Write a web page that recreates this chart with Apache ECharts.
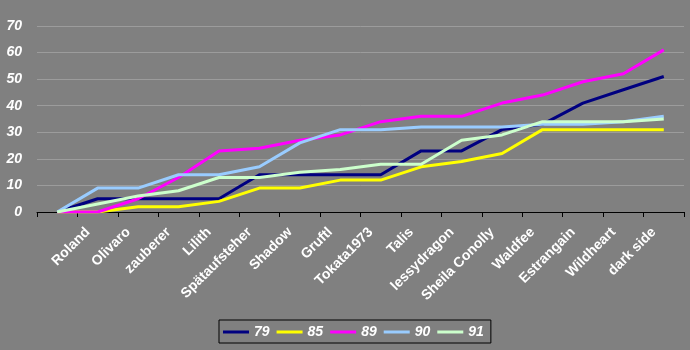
<!DOCTYPE html>
<html>
<head>
<meta charset="utf-8">
<script src="https://cdn.jsdelivr.net/npm/echarts@6/dist/echarts.min.js"></script>
<style>
  html, body { margin: 0; padding: 0; background: #808080; }
  #chart { width: 690px; height: 350px; }
</style>
</head>
<body>
<div id="chart"></div>
<script>
// Player names along the x axis (the first slot is the unnamed start)
const categories = ['', 'Roland', 'Olivaro', 'zauberer', 'Lilith', 'Spätaufsteher', 'Shadow', 'Gruftl',
  'Tokata1973', 'Talis', 'lessydragon', 'Sheila Conolly', 'Waldfee', 'Estrangain', 'Wildheart', 'dark side'];

const seriesNames = ['79', '85', '89', '90', '91'];
const values79 = [0, 5, 5, 5, 5, 14, 14, 14, 14, 23, 23, 31, 33, 41, 46, 51];
const values85 = [0, 0, 2, 2, 4, 9, 9, 12, 12, 17, 19, 22, 31, 31, 31, 31];
const values89 = [0, 0, 5, 13, 23, 24, 27, 29, 34, 36, 36, 41, 44, 49, 52, 61];
const values90 = [0, 9, 9, 14, 14, 17, 26, 31, 31, 32, 32, 32, 33, 33, 34, 36];
const values91 = [0, 3, 6, 8, 13, 13, 15, 16, 18, 18, 27, 29, 34, 34, 34, 35];

const yTicks = { min: 0, max: 70, interval: 10 };

const colors = ['#000080', '#FFFF00', '#FF00FF', '#99CCFF', '#CCFFCC'];
const allValues = [values79, values85, values89, values90, values91];

const chart = echarts.init(document.getElementById('chart'));

chart.setOption({
  backgroundColor: '#808080',
  animation: false,
  color: colors,
  grid: { left: 37, right: 6, top: 26, bottom: 138 },
  legend: {
    data: seriesNames,
    bottom: 7,
    left: 219,
    icon: 'rect',
    itemWidth: 26,
    itemHeight: 3,
    itemGap: 7,
    padding: [5, 7, 4, 4],
    borderColor: '#000000',
    borderWidth: 1,
    textStyle: {
      color: '#ffffff',
      fontFamily: 'Liberation Sans, Arial, sans-serif',
      fontWeight: 'bold',
      fontStyle: 'italic',
      fontSize: 14
    }
  },
  xAxis: {
    type: 'category',
    data: categories,
    boundaryGap: true,
    axisLine: { show: true, lineStyle: { color: '#000000', width: 1 } },
    axisTick: { show: true, inside: false, length: 5, lineStyle: { color: '#000000' } },
    axisLabel: {
      interval: 0,
      rotate: 45,
      margin: 8,
      padding: [0, 14, 0, 0],
      color: '#ffffff',
      fontFamily: 'Liberation Sans, Arial, sans-serif',
      fontWeight: 'bold',
      fontSize: 14
    },
    splitLine: { show: false }
  },
  yAxis: {
    type: 'value',
    min: yTicks.min,
    max: yTicks.max,
    interval: yTicks.interval,
    axisLine: { show: false },
    axisTick: { show: false },
    axisLabel: {
      margin: 15,
      color: '#ffffff',
      fontFamily: 'Liberation Sans, Arial, sans-serif',
      fontWeight: 'bold',
      fontStyle: 'italic',
      fontSize: 14
    },
    splitLine: { show: true, lineStyle: { color: '#9c9c9c', width: 1 } }
  },
  series: seriesNames.map((name, i) => ({
    name: name,
    type: 'line',
    data: allValues[i],
    showSymbol: false,
    symbol: 'none',
    lineStyle: { width: 3, color: colors[i] },
    emphasis: { disabled: true }
  }))
});
</script>
</body>
</html>
